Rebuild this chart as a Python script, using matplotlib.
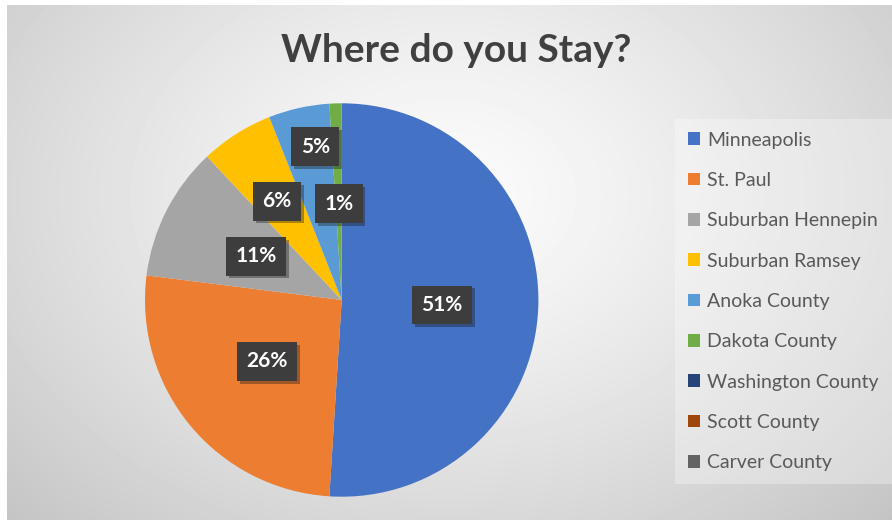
import numpy as np
import matplotlib
matplotlib.use("Agg")
import matplotlib.pyplot as plt
import matplotlib.patheffects as pe

plt.rcParams['font.family'] = ['Lato', 'DejaVu Sans']

# data
places = ["Minneapolis", "St. Paul", "Suburban Hennepin", "Suburban Ramsey",
          "Anoka County", "Dakota County", "Washington County", "Scott County",
          "Carver County"]
shares = [51, 26, 11, 6, 5, 1, 0, 0, 0]
colors = ["#4472C4", "#ED7D31", "#A5A5A5", "#FFC000", "#5B9BD5", "#70AD47",
          "#264478", "#9E480E", "#636363"]

# label placement (fraction of radius, angle nudge in degrees)
lab_r = [0.51, 0.49, 0.49, 0.60, 0.79, 0.49]
lab_da = [-1.0, 0, 0, 0.8, -2.8, 0]

W, H = 892, 520
fig = plt.figure(figsize=(W / 100, H / 100), dpi=100, facecolor="white")

# radial gradient background
bg = fig.add_axes([7 / W, 0, (W - 7) / W, (H - 5) / H])
yy, xx = np.mgrid[0:H - 5, 0:W - 7]
d = np.sqrt(((xx - 440) / 560.0) ** 2 + ((yy - 190) / 420.0) ** 2)
v = 0.985 - 0.19 * np.clip(d, 0, 1.2) ** 1.3
bg.imshow(v, cmap="gray", vmin=0, vmax=1, aspect="auto",
          extent=(0, 1, 0, 1), origin="upper")
bg.set_axis_off()

# pie
cx, cy, R = 341.7, 300, 196.7
ax = fig.add_axes([(cx - R) / W, (H - cy - R) / H, 2 * R / W, 2 * R / H])
wedges, _ = ax.pie(shares, colors=colors, startangle=90, counterclock=False,
                   radius=1, wedgeprops=dict(linewidth=0))
ax.set_xlim(-1, 1)
ax.set_ylim(-1, 1)
ax.set_axis_off()

start = 90.0
for i, s in enumerate(shares):
    span = 360.0 * s / sum(shares)
    if s > 0:
        mid = np.radians(start - span / 2 + lab_da[i])
        t = ax.text(lab_r[i] * np.cos(mid), lab_r[i] * np.sin(mid), f"{s}%",
                    ha="center", va="center", color="white", fontsize=15,
                    fontweight="bold",
                    bbox=dict(boxstyle="square,pad=0.45", fc="#3d3d3d", ec="none"))
        t.get_bbox_patch().set_path_effects(
            [pe.SimplePatchShadow(offset=(2, -2), alpha=0.35), pe.Normal()])
    start -= span

fig.text(456 / W, 1 - 50 / H, "Where do you Stay?", ha="center", va="center",
         fontsize=28, fontweight="bold", color="#404040")

leg = fig.legend(wedges, places, loc="upper left",
                 bbox_to_anchor=(675 / W, 1 - 119 / H), borderaxespad=0,
                 fontsize=14, frameon=True, fancybox=False,
                 handlelength=0.62, handleheight=0.62, handletextpad=0.4,
                 labelspacing=1.2, borderpad=0.65, labelcolor="#595959")
leg.get_frame().set_facecolor("white")
leg.get_frame().set_alpha(0.3)
leg.get_frame().set_edgecolor("none")

fig.savefig("out.png", dpi=100, facecolor="white")
